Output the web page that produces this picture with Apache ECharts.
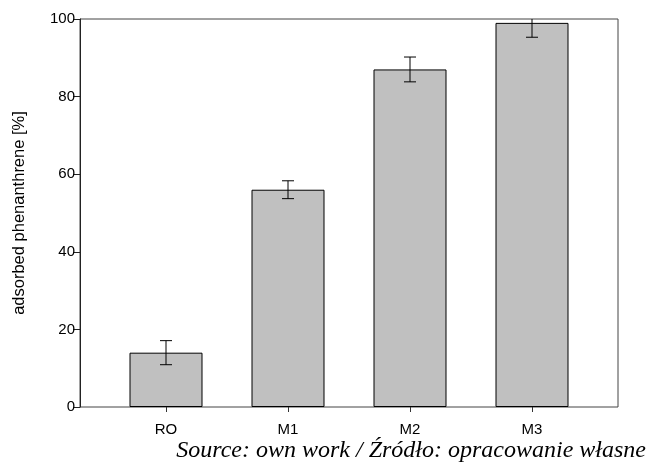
<!DOCTYPE html>
<html>
<head>
<meta charset="utf-8">
<script src="https://cdn.jsdelivr.net/npm/echarts@6/dist/echarts.min.js"></script>
<style>
html,body{margin:0;padding:0;background:#fff;}
#c{width:650px;height:463px;}
</style>
</head>
<body>
<div id="c"></div>
<script>
const categories = ['RO', 'M1', 'M2', 'M3'];
const values = [14, 56, 87, 99];
const errors = [3.1, 2.3, 3.2, 3.7];
const yTicks = [0, 20, 40, 60, 80, 100];
const yTitle = 'adsorbed phenanthrene [%]';
const sourceText = 'Source: own work / Źródło: opracowanie własne';

const chart = echarts.init(document.getElementById('c'));
const errData = values.map((v, i) => [i, v - errors[i], v + errors[i]]);

chart.setOption({
  animation: false,
  backgroundColor: '#fff',
  grid: [
    {left: 80, top: 19, width: 538, height: 388, show: true, borderColor: '#444', borderWidth: 1, backgroundColor: 'transparent'},
    {left: 105, top: 19, width: 488, height: 388, show: false}
  ],
  xAxis: [
    {type: 'value', gridIndex: 0, show: false, min: 0, max: 1},
    {type: 'category', gridIndex: 1, data: categories,
     axisLine: {show: false},
     axisTick: {show: true, alignWithLabel: true, length: 5, lineStyle: {color: '#333', width: 1}},
     axisLabel: {color: '#000', fontSize: 15, fontFamily: 'Liberation Sans, Arial, sans-serif', margin: 15}}
  ],
  yAxis: [
    {type: 'value', gridIndex: 0, min: yTicks[0], max: yTicks[yTicks.length-1], interval: 20,
     name: yTitle, nameLocation: 'middle', nameGap: 52,
     nameTextStyle: {color: '#000', fontSize: 16.5, fontFamily: 'Liberation Sans, Arial, sans-serif'},
     axisLine: {show: true, lineStyle: {color: '#222', width: 1}},
     axisTick: {show: true, length: 7, lineStyle: {color: '#222', width: 1}},
     axisLabel: {color: '#000', fontSize: 15, fontFamily: 'Liberation Sans, Arial, sans-serif', margin: 5},
     splitLine: {show: false}},
    {type: 'value', gridIndex: 1, min: 0, max: 100, show: false, splitLine: {show: false}}
  ],
  series: [
    {type: 'bar', xAxisIndex: 1, yAxisIndex: 1, data: values, barWidth: 73,
     itemStyle: {color: '#c0c0c0', borderColor: '#000', borderWidth: 1}},
    {type: 'custom', xAxisIndex: 1, yAxisIndex: 1, data: errData, clip: true, z: 5,
     renderItem: function (params, api) {
       const x = api.value(0);
       const lo = api.coord([x, api.value(1)]);
       const hi = api.coord([x, api.value(2)]);
       const cap = 6;
       const style = {stroke: '#000', lineWidth: 1};
       return {type: 'group', children: [
         {type: 'line', shape: {x1: lo[0], y1: lo[1], x2: hi[0], y2: hi[1]}, style: style},
         {type: 'line', shape: {x1: lo[0]-cap, y1: lo[1], x2: lo[0]+cap, y2: lo[1]}, style: style},
         {type: 'line', shape: {x1: hi[0]-cap, y1: hi[1], x2: hi[0]+cap, y2: hi[1]}, style: style}
       ]};
     }}
  ],
  graphic: [
    {type: 'text', right: 4, bottom: 0,
     style: {text: sourceText, fill: '#000', font: 'italic 24px "Liberation Serif", "Times New Roman", serif'}}
  ]
});
</script>
</body>
</html>
